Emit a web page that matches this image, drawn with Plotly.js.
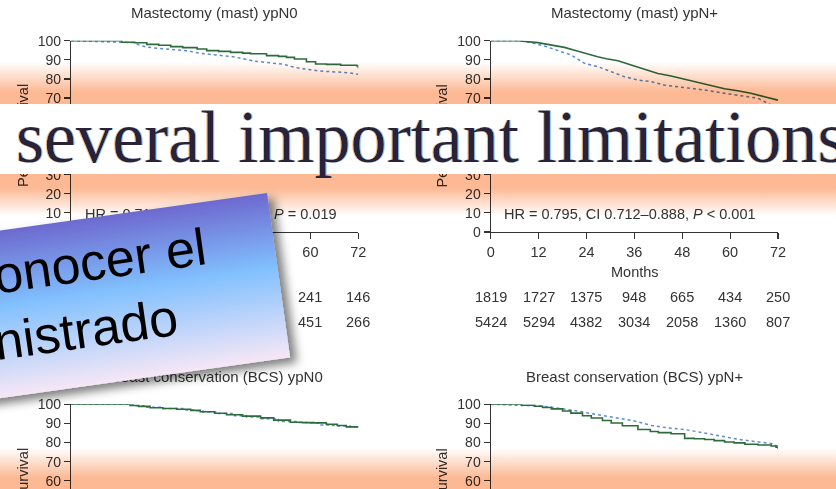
<!DOCTYPE html>
<html>
<head>
<meta charset="utf-8">
<script src="https://cdn.plot.ly/plotly-3.0.1.min.js"></script>
<style>
  html, body { margin: 0; padding: 0; width: 836px; height: 489px; overflow: hidden; background: #fff; }
  #chart { position: absolute; left: 0; top: 0; width: 836px; height: 700px; }
  /* warm tint bands, multiplied over the figure */
  #tint {
    position: absolute; left: 0; top: 0; width: 836px; height: 489px; pointer-events: none;
    mix-blend-mode: multiply;
    background: linear-gradient(180deg,
      #ffffff 0px, #ffffff 62px, #fcb994 92px, #fcb994 188px, #ffffff 216px,
      #ffffff 448px, #fcb994 478px, #fcb994 489px);
  }
  #over { position: absolute; left: 0; top: 0; pointer-events: none; }
</style>
</head>
<body>
<div id="chart"></div>
<div id="tint"></div>
<svg id="over" width="836" height="489" xmlns="http://www.w3.org/2000/svg">
  <defs>
    <linearGradient id="boxFill" x1="0" y1="0" x2="0" y2="1">
      <stop offset="0" stop-color="#6d69cf"/>
      <stop offset="0.45" stop-color="#81c0fe"/>
      <stop offset="1" stop-color="#f6e7f6"/>
    </linearGradient>
    <filter id="boxShadow" x="-10%" y="-20%" width="130%" height="150%">
      <feDropShadow dx="6" dy="6" stdDeviation="5" flood-color="#000" flood-opacity="0.5"/>
    </filter>
    <filter id="fringe" x="-5%" y="-20%" width="110%" height="140%">
      <feOffset in="SourceAlpha" dx="-1.5" dy="0" result="la"/>
      <feFlood flood-color="#f3c088"/>
      <feComposite in2="la" operator="in" result="lc"/>
      <feOffset in="SourceAlpha" dx="1.5" dy="0" result="ra"/>
      <feFlood flood-color="#8cc6f4"/>
      <feComposite in2="ra" operator="in" result="rc"/>
      <feMerge>
        <feMergeNode in="lc"/>
        <feMergeNode in="rc"/>
        <feMergeNode in="SourceGraphic"/>
      </feMerge>
    </filter>
  </defs>
  <rect x="0" y="104" width="836" height="70" fill="#ffffff"/>
  <g transform="translate(16,162) scale(0.975,1)">
    <text x="0" y="0" font-family="Liberation Serif, Times New Roman, serif" font-size="74"
          fill="#2a2238" filter="url(#fringe)">several important limitations</text>
  </g>
  <g transform="translate(267,193) rotate(-8)">
    <rect x="-600" y="0" width="600" height="166" fill="url(#boxFill)" filter="url(#boxShadow)"/>
    <text x="-68" y="62" text-anchor="end" font-family="Liberation Sans, Arial, sans-serif"
          font-size="52" fill="#000">onocer el</text>
    <text x="-106" y="128" text-anchor="end" font-family="Liberation Sans, Arial, sans-serif"
          font-size="52" fill="#000">nistrado</text>
  </g>
</svg>

<script>
// ---- axis ticks ----
const monthTicks = [0, 12, 24, 36, 48, 60, 72];
const pctTicks = [0, 10, 20, 30, 40, 50, 60, 70, 80, 90, 100];

// ---- panel titles ----
const panelTitles = [
  'Mastectomy (mast) ypN0',
  'Mastectomy (mast) ypN+',
  'Breast conservation (BCS) ypN0',
  'Breast conservation (BCS) ypN+'
];

// ---- Mastectomy ypN0 ----
const mastN0SolidMonths = [0, 12.7, 16, 19, 22, 25, 28, 31.6, 34, 37, 40, 43, 45, 49, 52, 54, 56, 59, 61.3, 64, 67.6, 71.6, 72];
const mastN0SolidSurv   = [100, 99.2, 98.9, 98.1, 97.6, 96.9, 96.4, 95.7, 94.8, 94.4, 93.9, 93.5, 93.2, 92.2, 91.8, 91.3, 90.4, 89.0, 87.8, 87.6, 87.2, 86.9, 85.6];
const mastN0DotMonths   = [0, 15.6, 17, 19, 22, 25.7, 29, 32.4, 36, 40.7, 43, 45.8, 49, 53.3, 55, 57.5, 60, 62.6, 66, 69.3, 72];
const mastN0DotSurv     = [100, 99.0, 97.8, 96.6, 96.0, 95.5, 94.8, 93.4, 92.5, 91.6, 90.6, 89.4, 88.6, 87.7, 86.6, 85.5, 84.8, 84.1, 83.7, 83.3, 82.4];

// ---- Mastectomy ypN+ ----
const mastNpSolidMonths = [0, 6.8, 11.8, 15, 18.5, 21, 23.5, 26.8, 29, 31.9, 35.2, 38.5, 41.9, 45.2, 48.5, 51.9, 55.2, 58.6, 61.9, 65.2, 68.6, 72];
const mastNpSolidSurv   = [100, 100, 99.0, 97.9, 96.5, 95.0, 93.4, 91.6, 90.6, 89.5, 87.3, 85.0, 82.9, 81.5, 79.9, 78.0, 76.3, 74.9, 73.8, 72.5, 70.7, 68.9];
const mastNpDotMonths   = [0, 6.8, 10.2, 13.5, 16.9, 20.2, 23.5, 26.9, 30.2, 33.5, 36.9, 40.2, 43.5, 48.5, 53.6, 58.6, 63.6, 67, 70.3, 72];
const mastNpDotSurv     = [100, 100, 99.0, 97.2, 94.8, 92.5, 88.2, 86.4, 83.8, 81.2, 79.4, 78.6, 76.8, 75.6, 74.2, 72.5, 71.1, 69.9, 66.3, 65.4];

// ---- Breast conservation ypN0 ----
const bcsN0SolidMonths = [0, 14.8, 17, 19.8, 23, 26.5, 30, 32.4, 36, 39, 43, 47.5, 50.8, 55, 58, 60.9, 64, 66.7, 69, 72];
const bcsN0SolidSurv   = [100, 99.4, 98.9, 98.2, 97.8, 97.4, 96.8, 96.1, 95.3, 94.5, 93.8, 92.9, 91.7, 90.6, 90.4, 90.3, 89.6, 88.9, 88.2, 87.8];
const bcsN0DotMonths   = [0, 16, 19, 23, 28, 31, 33, 37, 41, 44, 47, 52, 57, 60, 62, 65, 67, 70, 72];
const bcsN0DotSurv     = [100, 99.3, 98.4, 97.8, 97.0, 96.6, 96.0, 95.2, 94.0, 93.4, 92.5, 91.0, 90.5, 90.2, 89.2, 88.9, 88.6, 88.2, 88.0];

// ---- Breast conservation ypN+ ----
const bcsNpSolidMonths = [0, 7.7, 11, 13, 15.2, 18, 20.1, 23, 25.2, 28, 30.2, 33, 36.9, 40, 42, 45.2, 48.6, 51, 53.6, 56, 58.6, 61, 63.7, 67, 70.3, 71.5, 72];
const bcsNpSolidSurv   = [100, 99.5, 99.0, 98.3, 97.6, 96.5, 95.4, 94.0, 92.8, 91.5, 90.2, 88.8, 86.8, 85.8, 85.2, 84.6, 82.2, 82.0, 81.6, 81.0, 80.3, 79.8, 79.1, 78.7, 78.2, 77.5, 76.8];
const bcsNpDotMonths   = [0, 8, 12, 15.2, 19, 22.6, 25, 28.5, 32, 35.3, 38, 40.3, 44, 48.6, 52, 55.3, 58, 62, 66, 70.3, 72];
const bcsNpDotSurv     = [100, 99.6, 99.1, 98.5, 97.4, 96.2, 95.2, 94.0, 92.8, 91.6, 90.2, 88.9, 87.8, 86.8, 85.6, 84.3, 83.2, 81.7, 80.6, 79.5, 78.0];

// ---- numbers at risk (mastectomy panels) ----
const mastN0RiskRow1 = [1036, 988, 772, 531, 369, 241, 146];
const mastN0RiskRow2 = [1908, 1853, 1451, 1002, 687, 451, 266];
const mastNpRiskRow1 = [1819, 1727, 1375, 948, 665, 434, 250];
const mastNpRiskRow2 = [5424, 5294, 4382, 3034, 2058, 1360, 807];

// ---- hazard ratio statements ----
const mastN0Stat = 'HR = 0.716, CI 0.541–0.947, <i>P</i> = 0.019';
const mastNpStat = 'HR = 0.795, CI 0.712–0.888, <i>P</i> < 0.001';

// ---------------------------------------------------------------
const W = 836, H = 700;
const px = v => v / W;
const py = v => 1 - v / H;

const GREEN = '#2c6b3c';
const BLUE = '#5b8ad0';
const INK = '#333333';
const FONT = 'Liberation Sans, Arial, Helvetica, sans-serif';

// shape: 'hv' draws visible steps, 'linear' for the densely stepped curves
function solid(x, y, xa, ya, shape) {
  return { x, y, xaxis: xa, yaxis: ya, type: 'scatter', mode: 'lines', cliponaxis: false,
           line: { color: GREEN, width: 1.6, shape: shape || 'hv' }, hoverinfo: 'skip', showlegend: false };
}
function dotted(x, y, xa, ya, shape) {
  return { x, y, xaxis: xa, yaxis: ya, type: 'scatter', mode: 'lines', cliponaxis: false,
           line: { color: BLUE, width: 1.5, dash: 'dot', shape: shape || 'linear' }, hoverinfo: 'skip', showlegend: false };
}

const traces = [
  dotted(mastN0DotMonths, mastN0DotSurv, 'x', 'y'),
  solid(mastN0SolidMonths, mastN0SolidSurv, 'x', 'y'),
  dotted(mastNpDotMonths, mastNpDotSurv, 'x2', 'y2'),
  solid(mastNpSolidMonths, mastNpSolidSurv, 'x2', 'y2', 'linear'),
  dotted(bcsN0DotMonths, bcsN0DotSurv, 'x3', 'y3', 'hv'),
  solid(bcsN0SolidMonths, bcsN0SolidSurv, 'x3', 'y3'),
  dotted(bcsNpDotMonths, bcsNpDotSurv, 'x4', 'y4'),
  solid(bcsNpSolidMonths, bcsNpSolidSurv, 'x4', 'y4')
];

const colLeft = [px(71), px(358.3)];
const colRight = [px(490.7), px(778)];
const rowTop = [py(232), py(40.7)];
const rowBottom = [py(595.5), py(404.3)];

function xAxis(domain, anchor) {
  return { domain, anchor, range: [0, 72], tickvals: monthTicks, ticktext: monthTicks.map(String),
           ticks: 'outside', ticklen: 6, tickwidth: 1.2, tickcolor: INK,
           showline: true, linecolor: INK, linewidth: 1.2, showgrid: false, zeroline: false,
           tickfont: { size: 14.5, color: INK, family: FONT }, fixedrange: true };
}
function yAxis(domain, anchor) {
  return { domain, anchor, range: [0, 100], tickvals: pctTicks, ticktext: pctTicks.map(String),
           ticks: 'outside', ticklen: 6, tickwidth: 1.2, tickcolor: INK,
           showline: true, linecolor: INK, linewidth: 1.2, showgrid: false, zeroline: false,
           tickfont: { size: 14, color: INK, family: FONT }, fixedrange: true };
}

const annotations = [];
function note(text, x, y, opts) {
  annotations.push(Object.assign({ text, x, y, xref: 'paper', yref: 'paper', showarrow: false,
    xanchor: 'center', yanchor: 'middle', font: { size: 14.5, color: INK, family: FONT } }, opts || {}));
}

// panel titles
const titleCentres = [[214.5, 12.5], [634.3, 12.5], [214.5, 376.5], [634.5, 376.5]];
panelTitles.forEach((t, i) => note(t, px(titleCentres[i][0]), py(titleCentres[i][1]),
  { font: { size: 15, color: INK, family: FONT } }));

// y-axis titles
[[23, 136], [441.5, 136], [23, 500], [441.5, 500]].forEach(([cx, cy]) =>
  note('Percent survival', px(cx), py(cy), { textangle: -90 }));

// x-axis titles
[[214.5, 271.7], [634.7, 271.7], [214.5, 635.5], [634.7, 635.5]].forEach(([cx, cy]) =>
  note('Months', px(cx), py(cy)));

// hazard ratio statements
note(mastN0Stat, 2.9, 9.4, { xref: 'x', yref: 'y', xanchor: 'left' });
note(mastNpStat, 2.9, 9.4, { xref: 'x2', yref: 'y2', xanchor: 'left' });

// numbers at risk
function riskRow(values, xref, cy) {
  values.forEach((v, i) => note(String(v), monthTicks[i], py(cy), { xref }));
}
riskRow(mastN0RiskRow1, 'x', 297.3);
riskRow(mastN0RiskRow2, 'x', 321.7);
riskRow(mastNpRiskRow1, 'x2', 297.3);
riskRow(mastNpRiskRow2, 'x2', 321.7);

const layout = {
  width: W, height: H,
  margin: { l: 0, r: 0, t: 0, b: 0 },
  paper_bgcolor: '#ffffff', plot_bgcolor: '#ffffff',
  font: { family: FONT, color: INK, size: 14 },
  showlegend: false,
  xaxis: xAxis(colLeft, 'y'),
  yaxis: yAxis(rowTop, 'x'),
  xaxis2: xAxis(colRight, 'y2'),
  yaxis2: yAxis(rowTop, 'x2'),
  xaxis3: xAxis(colLeft, 'y3'),
  yaxis3: yAxis(rowBottom, 'x3'),
  xaxis4: xAxis(colRight, 'y4'),
  yaxis4: yAxis(rowBottom, 'x4'),
  annotations
};

Plotly.newPlot('chart', traces, layout, { displayModeBar: false, staticPlot: true });
</script>
</body>
</html>
